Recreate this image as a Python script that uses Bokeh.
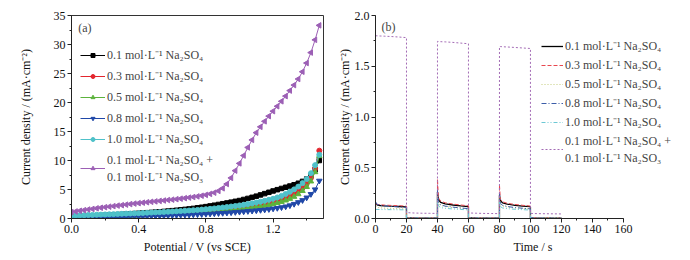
import math
from bokeh.plotting import figure
from bokeh.models import (Legend, LegendItem, SingleIntervalTicker, NumeralTickFormatter,
                          Range1d, Label)
from bokeh.layouts import row
from bokeh.embed import file_html
from bokeh.resources import INLINE

FONT = "Liberation Serif"

# ---------------- data: panel (a) LSV ----------------
potential = [0.000, 0.025, 0.050, 0.075, 0.100, 0.125, 0.150, 0.175, 0.200, 0.225,
             0.250, 0.275, 0.300, 0.325, 0.350, 0.375, 0.400, 0.425, 0.450, 0.475,
             0.500, 0.525, 0.550, 0.575, 0.600, 0.625, 0.650, 0.675, 0.700, 0.725,
             0.750, 0.775, 0.800, 0.825, 0.850, 0.875, 0.900, 0.925, 0.950, 0.975,
             1.000, 1.025, 1.050, 1.075, 1.100, 1.125, 1.150, 1.175, 1.200, 1.225,
             1.250, 1.275, 1.300, 1.325, 1.350, 1.375, 1.400, 1.425, 1.450, 1.475]

lsv_01 = [0.30, 0.33, 0.36, 0.39, 0.42, 0.45, 0.48, 0.51, 0.55, 0.59,
          0.63, 0.67, 0.71, 0.75, 0.80, 0.85, 0.90, 0.95, 1.00, 1.05,
          1.10, 1.16, 1.22, 1.28, 1.35, 1.42, 1.49, 1.57, 1.65, 1.74,
          1.84, 1.94, 2.05, 2.17, 2.29, 2.42, 2.55, 2.68, 2.82, 2.96,
          3.10, 3.28, 3.46, 3.65, 3.85, 4.07, 4.29, 4.52, 4.75, 4.97,
          5.18, 5.39, 5.60, 5.82, 6.08, 6.40, 6.80, 7.40, 8.40, 10.00]
lsv_03 = [0.25, 0.27, 0.29, 0.31, 0.33, 0.35, 0.37, 0.39, 0.41, 0.43,
          0.45, 0.47, 0.49, 0.51, 0.54, 0.57, 0.60, 0.63, 0.66, 0.69,
          0.72, 0.75, 0.78, 0.81, 0.85, 0.89, 0.93, 0.97, 1.01, 1.05,
          1.10, 1.15, 1.20, 1.26, 1.32, 1.38, 1.45, 1.52, 1.60, 1.70,
          1.80, 1.92, 2.04, 2.17, 2.30, 2.45, 2.60, 2.78, 2.96, 3.17,
          3.40, 3.66, 3.95, 4.30, 4.72, 5.25, 6.00, 7.00, 8.60, 11.70]
lsv_05 = [0.20, 0.22, 0.24, 0.26, 0.28, 0.30, 0.32, 0.34, 0.36, 0.38,
          0.40, 0.42, 0.44, 0.46, 0.48, 0.51, 0.54, 0.57, 0.60, 0.63,
          0.66, 0.69, 0.72, 0.75, 0.78, 0.81, 0.85, 0.89, 0.93, 0.97,
          1.01, 1.05, 1.10, 1.15, 1.20, 1.26, 1.32, 1.38, 1.45, 1.52,
          1.60, 1.69, 1.78, 1.88, 1.98, 2.09, 2.21, 2.35, 2.50, 2.68,
          2.88, 3.12, 3.40, 3.75, 4.20, 4.75, 5.45, 6.40, 8.00, 10.80]
lsv_08 = [0.10, 0.11, 0.12, 0.14, 0.15, 0.17, 0.18, 0.20, 0.21, 0.23,
          0.24, 0.26, 0.27, 0.29, 0.31, 0.33, 0.35, 0.37, 0.39, 0.41,
          0.43, 0.45, 0.48, 0.50, 0.53, 0.55, 0.58, 0.61, 0.64, 0.67,
          0.70, 0.74, 0.78, 0.82, 0.86, 0.90, 0.94, 0.99, 1.04, 1.09,
          1.14, 1.20, 1.26, 1.32, 1.38, 1.45, 1.52, 1.60, 1.70, 1.80,
          1.92, 2.06, 2.25, 2.50, 2.80, 3.15, 3.60, 4.20, 5.00, 6.50]
lsv_10 = [0.50, 0.52, 0.55, 0.57, 0.60, 0.62, 0.65, 0.67, 0.70, 0.73,
          0.75, 0.78, 0.81, 0.84, 0.86, 0.89, 0.92, 0.95, 0.99, 1.02,
          1.06, 1.09, 1.13, 1.16, 1.20, 1.24, 1.29, 1.33, 1.38, 1.43,
          1.48, 1.54, 1.60, 1.67, 1.74, 1.82, 1.90, 1.98, 2.07, 2.16,
          2.25, 2.36, 2.48, 2.61, 2.75, 2.90, 3.05, 3.22, 3.40, 3.63,
          3.90, 4.22, 4.60, 5.02, 5.50, 6.10, 6.80, 7.80, 9.20, 11.00]
lsv_mix = [1.10, 1.22, 1.33, 1.44, 1.55, 1.65, 1.75, 1.85, 1.95, 2.04,
           2.13, 2.22, 2.30, 2.39, 2.48, 2.57, 2.65, 2.73, 2.80, 2.88,
           2.95, 3.03, 3.10, 3.18, 3.25, 3.33, 3.42, 3.51, 3.60, 3.70,
           3.81, 3.93, 4.07, 4.24, 4.45, 4.75, 5.20, 5.95, 7.00, 8.25,
           9.50, 10.85, 12.25, 13.55, 14.80, 15.80, 16.75, 17.65, 18.50, 19.35,
           20.20, 21.10, 22.05, 23.00, 24.05, 25.30, 26.80, 28.60, 30.80, 33.30]

# ---------------- data: panel (b) chopped-light i-t ----------------
time_s = [0, 1, 3, 6, 10, 15, 20, 20, 25, 30, 35, 40, 40, 40.6, 42, 45, 50, 55, 60, 60,
          65, 70, 75, 80, 80, 80.6, 82, 85, 90, 95, 100, 100, 105, 110, 115, 120]
it_01 = [0.150, 0.135, 0.128, 0.124, 0.121, 0.118, 0.115, 0.008, 0.005, 0.004, 0.004, 0.004,
         0.260, 0.185, 0.160, 0.145, 0.133, 0.125, 0.118, 0.007, 0.005, 0.004, 0.004, 0.004,
         0.230, 0.175, 0.155, 0.142, 0.130, 0.122, 0.116, 0.006, 0.004, 0.004, 0.003, 0.003]
it_03 = [0.145, 0.140, 0.135, 0.132, 0.129, 0.126, 0.122, 0.010, 0.006, 0.005, 0.005, 0.005,
         0.390, 0.205, 0.172, 0.155, 0.142, 0.133, 0.125, 0.008, 0.006, 0.005, 0.005, 0.005,
         0.330, 0.190, 0.165, 0.150, 0.138, 0.130, 0.122, 0.008, 0.005, 0.005, 0.004, 0.004]
it_05 = [0.120, 0.110, 0.105, 0.102, 0.099, 0.096, 0.093, 0.006, 0.004, 0.003, 0.003, 0.003,
         0.220, 0.150, 0.130, 0.118, 0.108, 0.101, 0.095, 0.005, 0.004, 0.003, 0.003, 0.003,
         0.200, 0.140, 0.125, 0.113, 0.104, 0.098, 0.093, 0.005, 0.003, 0.003, 0.003, 0.003]
it_08 = [0.165, 0.140, 0.130, 0.124, 0.119, 0.114, 0.110, 0.007, 0.005, 0.004, 0.004, 0.004,
         0.280, 0.160, 0.135, 0.122, 0.112, 0.104, 0.097, 0.006, 0.004, 0.004, 0.004, 0.004,
         0.250, 0.150, 0.130, 0.118, 0.108, 0.101, 0.095, 0.006, 0.004, 0.004, 0.003, 0.003]
it_10 = [0.090, 0.089, 0.088, 0.088, 0.087, 0.086, 0.085, 0.005, 0.003, 0.003, 0.003, 0.003,
         0.200, 0.125, 0.108, 0.100, 0.094, 0.089, 0.085, 0.005, 0.003, 0.003, 0.003, 0.003,
         0.180, 0.118, 0.104, 0.097, 0.091, 0.087, 0.083, 0.004, 0.003, 0.003, 0.003, 0.003]
it_mix = [1.800, 1.800, 1.798, 1.796, 1.793, 1.788, 1.782, 0.058, 0.054, 0.052, 0.051, 0.050,
          1.745, 1.744, 1.742, 1.740, 1.735, 1.728, 1.722, 0.055, 0.052, 0.050, 0.049, 0.048,
          1.695, 1.694, 1.692, 1.690, 1.685, 1.680, 1.675, 0.050, 0.048, 0.047, 0.046, 0.045]

labels = ["0.1 mol·L⁻¹ Na₂SO₄", "0.3 mol·L⁻¹ Na₂SO₄", "0.5 mol·L⁻¹ Na₂SO₄",
          "0.8 mol·L⁻¹ Na₂SO₄", "1.0 mol·L⁻¹ Na₂SO₄",
          "0.1 mol·L⁻¹ Na₂SO₄ +\n0.1 mol·L⁻¹ Na₂SO₃"]


def style(p, outline):
    p.grid.visible = False
    p.background_fill_color = "white"
    p.border_fill_color = "white"
    p.outline_line_color = "#333333" if outline else None
    p.outline_line_width = 1
    for ax in p.axis:
        ax.axis_line_color = "#222222"
        ax.major_tick_line_color = "#222222"
        ax.minor_tick_line_color = "#222222"
        ax.major_tick_out = 4
        ax.major_tick_in = 0
        ax.minor_tick_out = 2
        ax.minor_tick_in = 0
        ax.major_label_text_font = FONT
        ax.major_label_text_font_size = "12px"
        ax.major_label_text_color = "#111111"
        ax.axis_label_text_font = FONT
        ax.axis_label_text_font_size = "12px"
        ax.axis_label_text_font_style = "normal"
        ax.axis_label_text_color = "#111111"
        ax.major_label_standoff = 2


# ---------------- panel (a) ----------------
p1 = figure(width=334, height=260, output_backend="svg", toolbar_location=None,
            x_range=Range1d(0, 1.5), y_range=Range1d(0, 35),
            min_border_left=71, min_border_right=11, min_border_top=15, min_border_bottom=42)
style(p1, True)
p1.xaxis.ticker = SingleIntervalTicker(interval=0.4, num_minor_ticks=2)
p1.xaxis.formatter = NumeralTickFormatter(format="0.0")
p1.yaxis.ticker = SingleIntervalTicker(interval=5, num_minor_ticks=2)
p1.yaxis.formatter = NumeralTickFormatter(format="0")
p1.xaxis.axis_label = "Potential / V (vs SCE)"
p1.yaxis.axis_label = "Current density / (mA·cm⁻²)"
p1.xaxis.axis_label_standoff = 4
p1.yaxis.axis_label_standoff = 18

a_series = [lsv_01, lsv_03, lsv_05, lsv_08, lsv_10, lsv_mix]
a_colors = ["#000000", "#e3262e", "#5cb33c", "#2048a8", "#4fc1c9", "#9c5fb5"]
a_markers = ["square", "circle", "triangle", "inverted_triangle", "circle", "triangle"]
a_angles = [0, 0, 0, 0, 0, math.pi / 2]
a_sizes = [4.5, 5, 5.5, 5.5, 5, 5.5]
items_a = []
for ys, c, m, ang, sz, lab in zip(a_series, a_colors, a_markers, a_angles, a_sizes, labels):
    ln = p1.line(potential, ys, line_color=c, line_width=1)
    sc = p1.scatter(potential, ys, marker=m, angle=ang, size=sz, fill_color=c, line_color=c)
    items_a.append(LegendItem(label=lab, renderers=[ln, sc]))

leg_a = Legend(items=items_a, location=(9, 33), glyph_width=25, glyph_height=10,
               label_height=10, spacing=4, label_standoff=2, padding=0, margin=0,
               background_fill_alpha=0, border_line_alpha=0,
               label_text_font=FONT, label_text_font_size="12px",
               label_text_line_height=1.0)
p1.add_layout(leg_a)
p1.add_layout(Label(x=0.04, y=32.9, text="(a)", text_font=FONT, text_font_size="12px",
                    text_baseline="middle"))

# ---------------- panel (b) ----------------
# frame runs to the right edge so the legend is not clipped; axis bounded to 0-160
p2 = figure(width=356, height=260, output_backend="svg", toolbar_location=None,
            x_range=Range1d(0, 203.3), y_range=Range1d(0, 2.0),
            min_border_left=40, min_border_right=0, min_border_top=15, min_border_bottom=42)
style(p2, False)
p2.xaxis.ticker = SingleIntervalTicker(interval=20, num_minor_ticks=2)
p2.xaxis.formatter = NumeralTickFormatter(format="0")
p2.xaxis.bounds = (0, 160)
p2.yaxis.ticker = SingleIntervalTicker(interval=0.5, num_minor_ticks=2)
p2.yaxis.formatter = NumeralTickFormatter(format="0.0")
p2.xaxis.axis_label = "Time / s"
p2.yaxis.axis_label = "Current density / (mA·cm⁻²)"
p2.xaxis.axis_label_standoff = 4
p2.yaxis.axis_label_standoff = 0

b_series = [it_01, it_03, it_05, it_08, it_10, it_mix]
b_colors = ["#000000", "#e8474f", "#c6cd7e", "#3c5da8", "#6dc8d4", "#a36bb5"]
b_dash = ["solid", "4 2", "1 2", "5 2 1 2", "4 2 1 2 1 2", "2 2"]
b_width = [1.3, 1, 1.2, 1, 1, 1]
items_b = []
for ys, c, d, w, lab in zip(b_series, b_colors, b_dash, b_width, labels):
    ln = p2.line(time_s, ys, line_color=c, line_dash=d, line_width=w)
    items_b.append(LegendItem(label=lab, renderers=[ln]))

leg_b = Legend(items=items_b, location=(166, 52), glyph_width=22, glyph_height=12,
               label_height=12, spacing=2, label_standoff=2, padding=0, margin=0,
               background_fill_alpha=0, border_line_alpha=0,
               label_text_font=FONT, label_text_font_size="12px")
p2.add_layout(leg_b)
p2.add_layout(Label(x=3.9, y=1.89, text="(b)", text_font=FONT, text_font_size="12px",
                    text_baseline="middle"))

layout = row(p1, p2)
open("out.html", "w").write(file_html(layout, INLINE))
